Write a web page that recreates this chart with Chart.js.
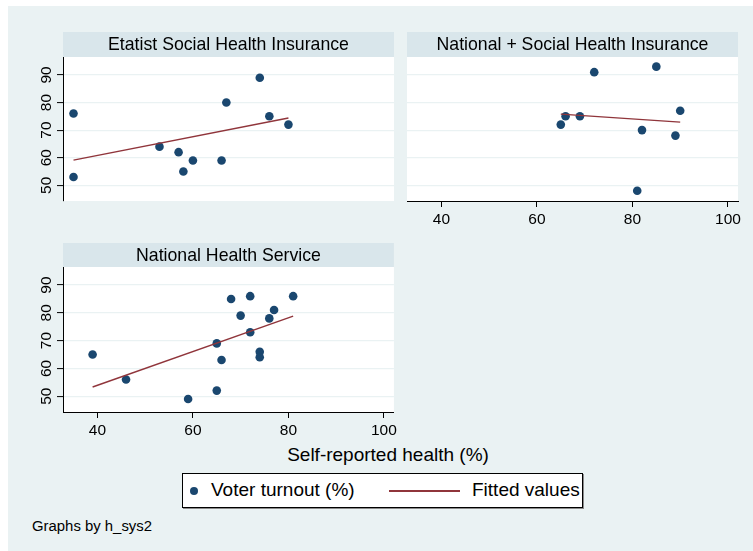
<!DOCTYPE html>
<html>
<head>
<meta charset="utf-8">
<script src="https://cdn.jsdelivr.net/npm/chart.js"></script>
<style>
  body { margin: 0; width: 753px; height: 551px; background: #fff; position: relative; overflow: hidden;
         font-family: "Liberation Sans", Arial, sans-serif; }
  #bg { position: absolute; left: 8px; top: 6px; right: 0; bottom: 0; background: #eaf2f3; }
  canvas { position: absolute; }
  .txt { position: absolute; white-space: nowrap; color: #000; }
  #legend { position: absolute; left: 182px; top: 473px; width: 401px; height: 35px; box-sizing: border-box;
            background: #fff; border: 1px solid #000; box-shadow: 1px 1px 0 #8a8a8a; }
</style>
</head>
<body>
<div id="bg"></div>
<canvas id="c1" width="392" height="178" style="left:8px;top:32px"></canvas>
<canvas id="c2" width="353" height="200" style="left:400px;top:32px"></canvas>
<canvas id="c3" width="392" height="200" style="left:8px;top:243px"></canvas>
<div class="txt" id="xtitle" style="left:388px;top:444px;font-size:19px;transform:translateX(-50%)"></div>
<div id="legend">
  <span style="position:absolute;left:7px;top:13px;width:8px;height:8px;border-radius:50%;background:#1a476f"></span>
  <span class="txt" id="leg1" style="left:28px;top:5px;font-size:19px"></span>
  <span style="position:absolute;left:206px;top:16px;width:71px;height:2px;background:#90353b"></span>
  <span class="txt" id="leg2" style="left:289px;top:5px;font-size:19px"></span>
</div>
<div class="txt" id="note" style="left:32px;top:518px;font-size:14.9px"></div>
<script>
// panel titles (h_sys2 groups)
const panelTitles = ['Etatist Social Health Insurance', 'National + Social Health Insurance', 'National Health Service'];

// self-reported health (%) and voter turnout (%) per group
const esX = [35, 35, 53, 57, 58, 60, 66, 67, 74, 76, 80];
const esY = [76, 53, 64, 62, 55, 59, 59, 80, 89, 75, 72];
const nsX = [72, 85, 90, 66, 69, 65, 82, 89, 81];
const nsY = [91, 93, 77, 75, 75, 72, 70, 68, 48];
const nhX = [39, 46, 59, 65, 65, 66, 68, 70, 72, 72, 74, 74, 76, 77, 81];
const nhY = [65, 56, 49, 52, 69, 63, 85, 79, 86, 73, 66, 64, 78, 81, 86];

// fitted line end points
const esFitX = [35, 80];
const esFitY = [59.1, 74.4];
const nsFitX = [65, 90];
const nsFitY = [75.8, 72.9];
const nhFitX = [39, 81];
const nhFitY = [53.3, 78.8];

const xTicks = [40, 60, 80, 100];
const yTicks = [50, 60, 70, 80, 90];

const xTitle = 'Self-reported health (%)';
const legendLabels = ['Voter turnout (%)', 'Fitted values'];
const note = 'Graphs by h_sys2';

document.getElementById('xtitle').textContent = xTitle;
document.getElementById('leg1').textContent = legendLabels[0];
document.getElementById('leg2').textContent = legendLabels[1];
document.getElementById('note').textContent = note;

Chart.defaults.font.family = '"Liberation Sans", Arial, sans-serif';
Chart.defaults.color = '#000';

const NAVY = '#1a476f';
const MAROON = '#90353b';
const FONT = '"Liberation Sans", Arial, sans-serif';

const toPts = (xs, ys) => xs.map((x, i) => ({ x: x, y: ys[i] }));

// white plot region, title band, and Stata-style rotated y labels
const panelDecor = {
    id: 'panelDecor',
    beforeDraw(chart, args, opts) {
        const { ctx, chartArea: a } = chart;
        ctx.save();
        ctx.fillStyle = '#ffffff';
        ctx.fillRect(a.left, a.top, a.right - a.left, a.bottom - a.top);
        ctx.fillStyle = '#d9e6eb';
        ctx.fillRect(a.left, a.top - opts.band, a.right - a.left, opts.band);
        ctx.fillStyle = '#000';
        ctx.font = '17.7px ' + FONT;
        ctx.textAlign = 'center';
        ctx.textBaseline = 'middle';
        ctx.fillText(opts.title, (a.left + a.right) / 2, a.top - opts.band / 2 + 1);
        ctx.restore();
    },
    afterDraw(chart, args, opts) {
        if (!opts.yLabels) return;
        const { ctx, chartArea: a } = chart;
        const ys = chart.scales.y;
        ctx.save();
        ctx.fillStyle = '#000';
        ctx.font = '15.5px ' + FONT;
        ctx.textAlign = 'center';
        ctx.textBaseline = 'middle';
        yTicks.forEach((v) => {
            ctx.save();
            ctx.translate(a.left - 17.5, ys.getPixelForValue(v));
            ctx.rotate(-Math.PI / 2);
            ctx.fillText(String(v), 0, 1);
            ctx.restore();
        });
        ctx.restore();
    }
};

function makePanel(id, title, xs, ys, fx, fy, showX, showY, padding, band) {
    const ctx = document.getElementById(id).getContext('2d');
    return new Chart(ctx, {
        type: 'scatter',
        data: {
            datasets: [
                {
                    label: legendLabels[0],
                    data: toPts(xs, ys),
                    backgroundColor: NAVY,
                    borderWidth: 0,
                    pointRadius: 4.3,
                    order: 2,
                },
                {
                    type: 'line',
                    label: legendLabels[1],
                    data: toPts(fx, fy),
                    borderColor: MAROON,
                    borderWidth: 1.4,
                    pointRadius: 0,
                    fill: false,
                    order: 1,
                },
            ],
        },
        options: {
            responsive: false,
            animation: false,
            layout: { padding: padding, autoPadding: false },
            plugins: {
                legend: { display: false },
                tooltip: { enabled: false },
                panelDecor: { title: title, band: band, yLabels: showY },
            },
            scales: {
                x: {
                    type: 'linear',
                    display: showX,
                    min: 32.8,
                    max: 102.1,
                    afterBuildTicks: (s) => { s.ticks = xTicks.map((v) => ({ value: v })); },
                    afterFit: (s) => { s.height = showX ? 31 : 0; },
                    grid: { drawOnChartArea: false, drawTicks: true, tickLength: 6, tickColor: '#000', tickWidth: 1 },
                    border: { display: true, color: '#000', width: 1 },
                    ticks: { font: { size: 15.5 }, padding: 3, maxRotation: 0 },
                },
                y: {
                    type: 'linear',
                    min: 44.3,
                    max: 96.5,
                    afterBuildTicks: (s) => { s.ticks = yTicks.map((v) => ({ value: v })); },
                    afterFit: (s) => { s.width = showY ? 55 : 0; },
                    grid: { color: '#eaf2f3', lineWidth: 1.2, drawTicks: showY, tickLength: 6, tickColor: '#000', tickWidth: 1 },
                    border: { display: showY, color: '#000', width: 1 },
                    ticks: { display: false },
                },
            },
        },
        plugins: [panelDecor],
    });
}

makePanel('c1', panelTitles[0], esX, esY, esFitX, esFitY, false, true, { top: 25, right: 6, bottom: 9, left: 0 }, 25);
makePanel('c2', panelTitles[1], nsX, nsY, nsFitX, nsFitY, true, false, { top: 25, right: 15, bottom: 0, left: 7 }, 25);
makePanel('c3', panelTitles[2], nhX, nhY, nhFitX, nhFitY, true, true, { top: 24, right: 6, bottom: 0, left: 0 }, 24);
</script>
</body>
</html>
